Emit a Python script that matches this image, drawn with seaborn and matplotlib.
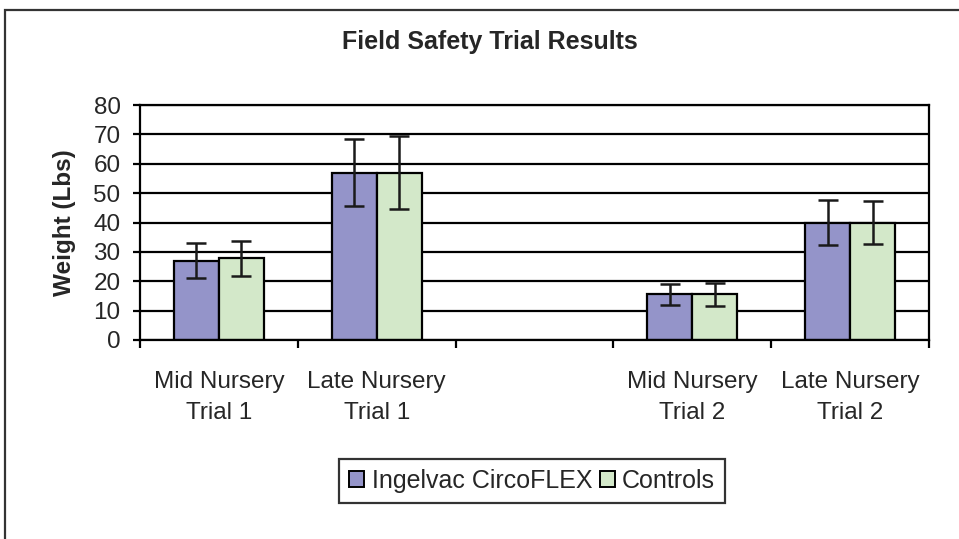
import matplotlib
matplotlib.use("Agg")
import matplotlib.pyplot as plt
import numpy as np
import pandas as pd
import seaborn as sns
from matplotlib.patches import Rectangle

categories = [
    "Mid Nursery\nTrial 1",
    "Late Nursery\nTrial 1",
    "",
    "Mid Nursery\nTrial 2",
    "Late Nursery\nTrial 2",
]
series = ["Ingelvac CircoFLEX", "Controls"]

# values (empty third slot is a spacer)
ingelvac_mean = [27.0, 57.0, None, 15.5, 40.0]
ingelvac_err = [6.0, 11.3, None, 3.5, 7.6]
controls_mean = [27.8, 57.0, None, 15.5, 40.0]
controls_err = [6.0, 12.3, None, 3.8, 7.2]

colors = ["#9494C9", "#D3E8C9"]

rows = []
for name, means, errs in [
    (series[0], ingelvac_mean, ingelvac_err),
    (series[1], controls_mean, controls_err),
]:
    for cat, m, e in zip(categories, means, errs):
        if m is not None:
            rows.append({"category": cat, "series": name, "weight": m, "err": e})
df = pd.DataFrame(rows)

sns.set_style("white")
plt.rcParams["font.family"] = ["Liberation Sans", "DejaVu Sans"]

fig = plt.figure(figsize=(9.59, 5.39), dpi=100)
ax = fig.add_axes([140 / 959, 1 - 340 / 539, (929 - 140) / 959, (340 - 105) / 539])

sns.barplot(
    data=df,
    x="category",
    y="weight",
    hue="series",
    order=categories,
    hue_order=series,
    palette=colors,
    errorbar=None,
    width=0.57,
    edgecolor="black",
    linewidth=1.6,
    saturation=1,
    ax=ax,
)

# error bars at bar centres
err_lookup = {(r.series, r.category): r.err for r in df.itertuples()}
for name, cont in zip(series, ax.containers):
    for bar in cont:
        h = bar.get_height()
        if not np.isfinite(h) or h == 0:
            continue
        xc = bar.get_x() + bar.get_width() / 2
        cat = categories[int(round(xc))]
        ax.errorbar(
            xc, h, yerr=err_lookup[(name, cat)],
            fmt="none", ecolor="#1a1a1a", elinewidth=1.8, capsize=7, capthick=1.8,
            zorder=4,
        )

ax.set_ylim(0, 80)
ax.set_xlim(-0.5, len(categories) - 0.5)
ax.set_yticks(np.arange(0, 81, 10))
ax.yaxis.grid(True, color="black", linewidth=1.6)
ax.set_axisbelow(True)

ax.set_xticks(range(len(categories)))
ax.set_xticklabels(categories, fontsize=17.5, linespacing=1.55)
ax.set_xticks(np.arange(-0.5, len(categories), 1), minor=True)
ax.tick_params(axis="x", which="major", length=0, pad=22)
ax.tick_params(axis="x", which="minor", length=6, width=1.6, color="black",
               direction="out", bottom=True)
ax.tick_params(axis="y", length=5, width=1.6, color="black", direction="out",
               labelsize=17.5, pad=9, left=True)

for side in ["left", "bottom", "right", "top"]:
    ax.spines[side].set_visible(True)
    ax.spines[side].set_color("black")
    ax.spines[side].set_linewidth(1.6)

ax.set_xlabel("")
ax.set_ylabel("Weight (Lbs)", fontsize=17.5, fontweight="bold")
ax.yaxis.set_label_coords(-0.081, 0.5)

fig.text(490 / 959, 1 - 42 / 539, "Field Safety Trial Results",
         ha="center", va="center", fontsize=18, fontweight="bold")

leg = ax.get_legend()
handles = leg.legend_handles
leg.remove()
leg = fig.legend(
    handles, series, loc="center", bbox_to_anchor=(532 / 959, 1 - 481 / 539),
    ncol=2, frameon=True, fancybox=False, fontsize=18,
    handlelength=0.6, handleheight=0.6, handletextpad=0.3, columnspacing=0.3,
    borderpad=0.4,
)
leg.get_frame().set_edgecolor("black")
leg.get_frame().set_linewidth(1.6)
for h in leg.legend_handles:
    h.set_edgecolor("black")
    h.set_linewidth(1.4)

# outer chart frame (cropped on the right and bottom)
fig.patches.append(Rectangle((5 / 959, -0.1), 1.2, 1 - 10 / 539 + 0.1,
                             transform=fig.transFigure, fill=False,
                             edgecolor="#333333", linewidth=1.6))

fig.savefig("out.png", dpi=100)
